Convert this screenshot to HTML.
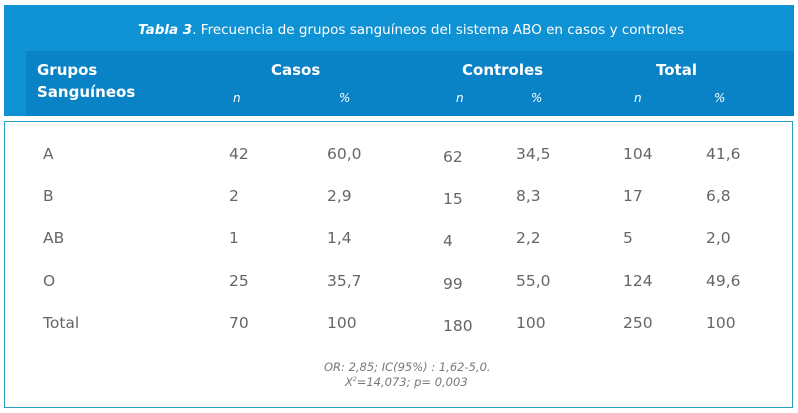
<!DOCTYPE html>
<html><head><meta charset="utf-8"><style>
body{margin:0;width:798px;height:413px;background:#fff;position:relative;overflow:hidden;font-family:"DejaVu Sans","Liberation Sans",sans-serif;}
.a{position:absolute;white-space:nowrap;line-height:1;}
.h{color:#fff;font-weight:bold;font-size:15px;}
.s{color:#fff;font-style:italic;font-size:12px;}
.d{color:#666;font-size:15.5px;}
</style></head><body>
<div class="a" style="left:4px;top:5px;width:790px;height:111px;background:#0f92d4;"></div>
<div class="a" style="left:26px;top:51px;width:768px;height:65px;background:#0a82c6;"></div>
<div class="a" style="left:4px;top:121px;width:787px;height:285px;border:1.5px solid #2a9fc4;"></div>
<div class="a" style="left:0;width:822px;top:24px;text-align:center;color:#fff;font-size:13.5px;"><b><i>Tabla 3</i></b>. Frecuencia de grupos sanguíneos del sistema ABO en casos y controles</div>
<div class="a h" style="left:37px;top:63px;">Grupos</div>
<div class="a h" style="left:37px;top:85px;">Sanguíneos</div>
<div class="a h" style="left:271px;top:63px;">Casos</div>
<div class="a h" style="left:462px;top:63px;">Controles</div>
<div class="a h" style="left:656px;top:63px;">Total</div>
<div class="a s" style="left:233px;top:92px;">n</div>
<div class="a s" style="left:339px;top:92px;">%</div>
<div class="a s" style="left:456px;top:92px;">n</div>
<div class="a s" style="left:531px;top:92px;">%</div>
<div class="a s" style="left:634px;top:92px;">n</div>
<div class="a s" style="left:714px;top:92px;">%</div>

<div class="a d" style="left:43px;top:147px;">A</div>
<div class="a d" style="left:229px;top:147px;">42</div>
<div class="a d" style="left:327px;top:147px;">60,0</div>
<div class="a d" style="left:443px;top:150px;">62</div>
<div class="a d" style="left:516px;top:147px;">34,5</div>
<div class="a d" style="left:623px;top:147px;">104</div>
<div class="a d" style="left:706px;top:147px;">41,6</div>

<div class="a d" style="left:43px;top:189px;">B</div>
<div class="a d" style="left:229px;top:189px;">2</div>
<div class="a d" style="left:327px;top:189px;">2,9</div>
<div class="a d" style="left:443px;top:192px;">15</div>
<div class="a d" style="left:516px;top:189px;">8,3</div>
<div class="a d" style="left:623px;top:189px;">17</div>
<div class="a d" style="left:706px;top:189px;">6,8</div>

<div class="a d" style="left:43px;top:231px;">AB</div>
<div class="a d" style="left:229px;top:231px;">1</div>
<div class="a d" style="left:327px;top:231px;">1,4</div>
<div class="a d" style="left:443px;top:234px;">4</div>
<div class="a d" style="left:516px;top:231px;">2,2</div>
<div class="a d" style="left:623px;top:231px;">5</div>
<div class="a d" style="left:706px;top:231px;">2,0</div>

<div class="a d" style="left:43px;top:274px;">O</div>
<div class="a d" style="left:229px;top:274px;">25</div>
<div class="a d" style="left:327px;top:274px;">35,7</div>
<div class="a d" style="left:443px;top:277px;">99</div>
<div class="a d" style="left:516px;top:274px;">55,0</div>
<div class="a d" style="left:623px;top:274px;">124</div>
<div class="a d" style="left:706px;top:274px;">49,6</div>

<div class="a d" style="left:43px;top:316px;">Total</div>
<div class="a d" style="left:229px;top:316px;">70</div>
<div class="a d" style="left:327px;top:316px;">100</div>
<div class="a d" style="left:443px;top:319px;">180</div>
<div class="a d" style="left:516px;top:316px;">100</div>
<div class="a d" style="left:623px;top:316px;">250</div>
<div class="a d" style="left:706px;top:316px;">100</div>

<div class="a" style="left:324px;top:362px;color:#777;font-style:italic;font-size:11.5px;">OR: 2,85; IC(95%) : 1,62-5,0.</div>
<div class="a" style="left:345px;top:377px;color:#777;font-style:italic;font-size:11.5px;">X<sup style="font-size:6px">2</sup>=14,073; p= 0,003</div>
</body></html>
